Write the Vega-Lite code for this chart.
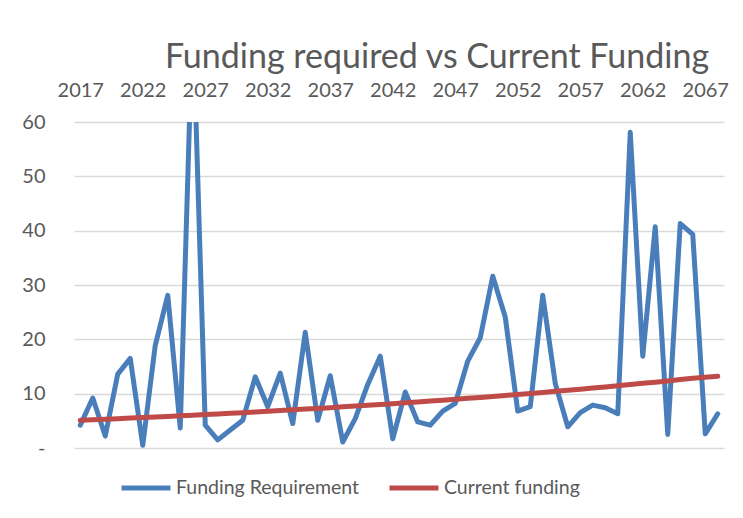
{
  "$schema": "https://vega.github.io/schema/vega-lite/v6.json",
  "autosize": {"type": "none"},
  "width": 650,
  "height": 326,
  "padding": {"left": 74, "top": 122, "right": 19, "bottom": 70},
  "background": "white",
  "title": {
    "text": "Funding required vs Current Funding",
    "font": "Lato",
    "fontSize": 34,
    "fontWeight": "normal",
    "color": "#595959",
    "anchor": "middle",
    "dx": 38,
    "offset": 5
  },
  "config": {
    "view": {"stroke": null},
    "font": "Lato"
  },
  "data": {
    "values": [
      {"year": 2017, "series": "Funding Requirement", "value": 4.2},
      {"year": 2018, "series": "Funding Requirement", "value": 9.2},
      {"year": 2019, "series": "Funding Requirement", "value": 2.2},
      {"year": 2020, "series": "Funding Requirement", "value": 13.6},
      {"year": 2021, "series": "Funding Requirement", "value": 16.5},
      {"year": 2022, "series": "Funding Requirement", "value": 0.5},
      {"year": 2023, "series": "Funding Requirement", "value": 18.9},
      {"year": 2024, "series": "Funding Requirement", "value": 28.1},
      {"year": 2025, "series": "Funding Requirement", "value": 3.7},
      {"year": 2026, "series": "Funding Requirement", "value": 80},
      {"year": 2027, "series": "Funding Requirement", "value": 4.2},
      {"year": 2028, "series": "Funding Requirement", "value": 1.5},
      {"year": 2029, "series": "Funding Requirement", "value": 3.3},
      {"year": 2030, "series": "Funding Requirement", "value": 5.1},
      {"year": 2031, "series": "Funding Requirement", "value": 13.1},
      {"year": 2032, "series": "Funding Requirement", "value": 7.6},
      {"year": 2033, "series": "Funding Requirement", "value": 13.8},
      {"year": 2034, "series": "Funding Requirement", "value": 4.5},
      {"year": 2035, "series": "Funding Requirement", "value": 21.3},
      {"year": 2036, "series": "Funding Requirement", "value": 5.1},
      {"year": 2037, "series": "Funding Requirement", "value": 13.3},
      {"year": 2038, "series": "Funding Requirement", "value": 1.1},
      {"year": 2039, "series": "Funding Requirement", "value": 5.4},
      {"year": 2040, "series": "Funding Requirement", "value": 11.7},
      {"year": 2041, "series": "Funding Requirement", "value": 16.9},
      {"year": 2042, "series": "Funding Requirement", "value": 1.7},
      {"year": 2043, "series": "Funding Requirement", "value": 10.3},
      {"year": 2044, "series": "Funding Requirement", "value": 4.8},
      {"year": 2045, "series": "Funding Requirement", "value": 4.2},
      {"year": 2046, "series": "Funding Requirement", "value": 6.8},
      {"year": 2047, "series": "Funding Requirement", "value": 8.2},
      {"year": 2048, "series": "Funding Requirement", "value": 16.0},
      {"year": 2049, "series": "Funding Requirement", "value": 20.3},
      {"year": 2050, "series": "Funding Requirement", "value": 31.6},
      {"year": 2051, "series": "Funding Requirement", "value": 24.1},
      {"year": 2052, "series": "Funding Requirement", "value": 6.8},
      {"year": 2053, "series": "Funding Requirement", "value": 7.6},
      {"year": 2054, "series": "Funding Requirement", "value": 28.1},
      {"year": 2055, "series": "Funding Requirement", "value": 11.9},
      {"year": 2056, "series": "Funding Requirement", "value": 3.9},
      {"year": 2057, "series": "Funding Requirement", "value": 6.5},
      {"year": 2058, "series": "Funding Requirement", "value": 7.9},
      {"year": 2059, "series": "Funding Requirement", "value": 7.4},
      {"year": 2060, "series": "Funding Requirement", "value": 6.3},
      {"year": 2061, "series": "Funding Requirement", "value": 58.1},
      {"year": 2062, "series": "Funding Requirement", "value": 16.9},
      {"year": 2063, "series": "Funding Requirement", "value": 40.7},
      {"year": 2064, "series": "Funding Requirement", "value": 2.5},
      {"year": 2065, "series": "Funding Requirement", "value": 41.3},
      {"year": 2066, "series": "Funding Requirement", "value": 39.3},
      {"year": 2067, "series": "Funding Requirement", "value": 2.6},
      {"year": 2068, "series": "Funding Requirement", "value": 6.3},
      {"year": 2017, "series": "Current funding", "value": 5.10},
      {"year": 2018, "series": "Current funding", "value": 5.20},
      {"year": 2019, "series": "Current funding", "value": 5.30},
      {"year": 2020, "series": "Current funding", "value": 5.40},
      {"year": 2021, "series": "Current funding", "value": 5.50},
      {"year": 2022, "series": "Current funding", "value": 5.60},
      {"year": 2023, "series": "Current funding", "value": 5.71},
      {"year": 2024, "series": "Current funding", "value": 5.82},
      {"year": 2025, "series": "Current funding", "value": 5.93},
      {"year": 2026, "series": "Current funding", "value": 6.04},
      {"year": 2027, "series": "Current funding", "value": 6.16},
      {"year": 2028, "series": "Current funding", "value": 6.27},
      {"year": 2029, "series": "Current funding", "value": 6.39},
      {"year": 2030, "series": "Current funding", "value": 6.51},
      {"year": 2031, "series": "Current funding", "value": 6.64},
      {"year": 2032, "series": "Current funding", "value": 6.76},
      {"year": 2033, "series": "Current funding", "value": 6.89},
      {"year": 2034, "series": "Current funding", "value": 7.02},
      {"year": 2035, "series": "Current funding", "value": 7.16},
      {"year": 2036, "series": "Current funding", "value": 7.29},
      {"year": 2037, "series": "Current funding", "value": 7.43},
      {"year": 2038, "series": "Current funding", "value": 7.57},
      {"year": 2039, "series": "Current funding", "value": 7.72},
      {"year": 2040, "series": "Current funding", "value": 7.86},
      {"year": 2041, "series": "Current funding", "value": 8.01},
      {"year": 2042, "series": "Current funding", "value": 8.16},
      {"year": 2043, "series": "Current funding", "value": 8.32},
      {"year": 2044, "series": "Current funding", "value": 8.48},
      {"year": 2045, "series": "Current funding", "value": 8.64},
      {"year": 2046, "series": "Current funding", "value": 8.80},
      {"year": 2047, "series": "Current funding", "value": 8.97},
      {"year": 2048, "series": "Current funding", "value": 9.14},
      {"year": 2049, "series": "Current funding", "value": 9.31},
      {"year": 2050, "series": "Current funding", "value": 9.49},
      {"year": 2051, "series": "Current funding", "value": 9.67},
      {"year": 2052, "series": "Current funding", "value": 9.85},
      {"year": 2053, "series": "Current funding", "value": 10.04},
      {"year": 2054, "series": "Current funding", "value": 10.23},
      {"year": 2055, "series": "Current funding", "value": 10.43},
      {"year": 2056, "series": "Current funding", "value": 10.63},
      {"year": 2057, "series": "Current funding", "value": 10.83},
      {"year": 2058, "series": "Current funding", "value": 11.03},
      {"year": 2059, "series": "Current funding", "value": 11.24},
      {"year": 2060, "series": "Current funding", "value": 11.46},
      {"year": 2061, "series": "Current funding", "value": 11.67},
      {"year": 2062, "series": "Current funding", "value": 11.90},
      {"year": 2063, "series": "Current funding", "value": 12.12},
      {"year": 2064, "series": "Current funding", "value": 12.35},
      {"year": 2065, "series": "Current funding", "value": 12.59},
      {"year": 2066, "series": "Current funding", "value": 12.83},
      {"year": 2067, "series": "Current funding", "value": 13.03},
      {"year": 2068, "series": "Current funding", "value": 13.2}
    ]
  },
  "mark": {
    "type": "line",
    "clip": true,
    "strokeWidth": 5,
    "strokeJoin": "round",
    "strokeCap": "round"
  },
  "encoding": {
    "x": {
      "field": "year",
      "type": "quantitative",
      "scale": {"domain": [2016.5, 2068.5], "nice": false, "zero": false},
      "axis": {
        "orient": "top",
        "title": null,
        "values": [2017, 2022, 2027, 2032, 2037, 2042, 2047, 2052, 2057, 2062, 2067],
        "format": "d",
        "grid": false,
        "domain": false,
        "ticks": false,
        "labelFont": "Lato",
        "labelFontSize": 20,
        "labelColor": "#595959",
        "labelPadding": 22,
        "labelFlush": false,
        "labelOverlap": false
      }
    },
    "y": {
      "field": "value",
      "type": "quantitative",
      "scale": {"domain": [0, 60], "nice": false},
      "axis": {
        "title": null,
        "values": [0, 10, 20, 30, 40, 50, 60],
        "labelExpr": "datum.value == 0 ? '-' : datum.label",
        "grid": true,
        "gridColor": "#d9d9d9",
        "gridWidth": 1.5,
        "domain": false,
        "ticks": false,
        "labelFont": "Lato",
        "labelFontSize": 20,
        "labelColor": "#595959",
        "labelPadding": 29
      }
    },
    "color": {
      "field": "series",
      "type": "nominal",
      "sort": ["Funding Requirement", "Current funding"],
      "scale": {
        "domain": ["Funding Requirement", "Current funding"],
        "range": ["#4A7EBB", "#BE4B48"]
      },
      "legend": {
        "title": null,
        "orient": "none",
        "direction": "horizontal",
        "legendX": 45,
        "legendY": 339,
        "symbolType": "stroke",
        "symbolSize": 2401,
        "symbolStrokeWidth": 5,
        "labelFont": "Lato",
        "labelFontSize": 19.5,
        "labelColor": "#595959",
        "labelLimit": 400,
        "labelOffset": 3,
        "columnPadding": 19
      }
    }
  }
}
